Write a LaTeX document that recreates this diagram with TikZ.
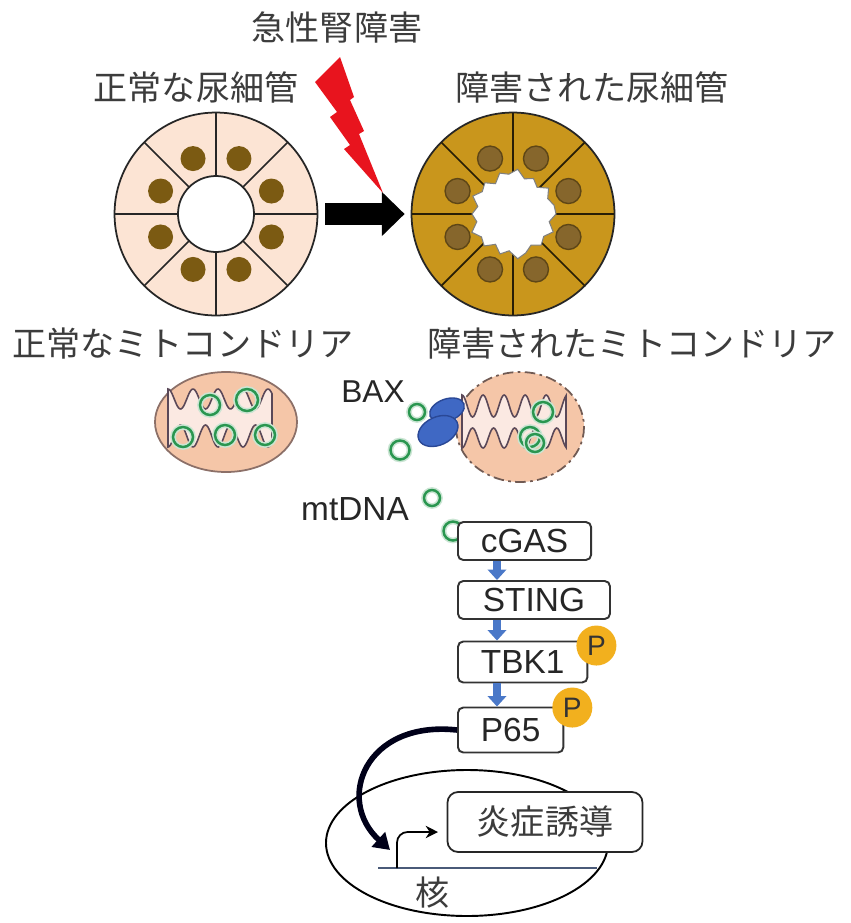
\documentclass[tikz,border=0pt]{standalone}
\usepackage{fontspec}
\setmainfont{Liberation Sans}
\newfontfamily\jp{Noto Sans CJK JP}
\usetikzlibrary{arrows.meta,positioning}
\definecolor{tubeN}{HTML}{FCE4D4}
\definecolor{tubeD}{HTML}{C9961C}
\definecolor{nucN}{HTML}{7B5A12}
\definecolor{nucD}{HTML}{86662C}
\definecolor{nucDL}{HTML}{5E4616}
\definecolor{mitoF}{HTML}{F5C6A8}
\definecolor{mitoL}{HTML}{8C7068}
\definecolor{cristaF}{HTML}{FBE9E2}
\definecolor{cristaL}{HTML}{5A4858}
\definecolor{mtG}{HTML}{2A9650}
\definecolor{baxB}{HTML}{3F68C4}
\definecolor{baxL}{HTML}{2A4896}
\definecolor{flowB}{HTML}{4A78C8}
\definecolor{phosY}{HTML}{F2B01E}
\definecolor{txtG}{HTML}{3C3C3C}
\definecolor{boltR}{HTML}{E8141E}
\definecolor{geneL}{HTML}{4A5A78}
\tikzset{
  jplabel/.style={font=\jp\fontsize{19.4}{22}\selectfont, text=txtG, inner sep=0pt},
  enlabel/.style={font=\fontsize{19}{22}\selectfont, text=black!85, inner sep=0pt},
  tube/.style={circle, draw=black!85, line width=1pt, minimum size=4.06cm, inner sep=0pt},
  pathbox/.style={draw=black!80, line width=1.1pt, rounded corners=3pt, fill=white,
    anchor=west, font=\fontsize{19}{22}\selectfont, text=black!85,
    inner xsep=0.46cm, inner ysep=0pt, minimum height=0.76cm},
  phos/.style={circle, fill=phosY, inner sep=0pt, minimum size=0.8cm,
    font=\fontsize{16}{18}\selectfont, text=black!80},
  flow/.style={draw=flowB, line width=4.5pt, -{Triangle[width=10.5pt,length=6pt]}},
  mtdna/.style={draw=mtG, line width=1.4pt, preaction={draw=mtG!25, line width=3.2pt}},
}
\begin{document}
\begin{tikzpicture}[x=0.02cm, y=-0.02cm]
  \fill[white] (0,0) rectangle (851,923);
  \useasboundingbox (0,0) rectangle (851,923);
  % 标题
  \node[jplabel] (aki) at (337,27) {急性腎障害};
  \node[jplabel] (lblN) at (196,87) {正常な尿細管};
  \node[jplabel] (lblD) at (592,87) {障害された尿細管};
  % 正常尿细管
  \node[tube, fill=tubeN] (tubN) at (216,214) {};
  \filldraw[fill=white, draw=black!85, line width=1pt] (tubN.center) circle (38);
  \foreach \a in {0,45,...,315}
    \draw[black!85, line width=1pt] (216,214) ++(\a:38) -- ++(\a:63);
  \foreach \a in {22.5,67.5,...,337.5}
    \fill[nucN] (216,214) ++(\a:60) circle (12.5);
  % 受损尿细管
  \node[tube, fill=tubeD] (tubD) at (513,214) {};
  \foreach \a in {0,45,...,315}
    \draw[black!80!tubeD, line width=1pt] (513,214) ++(\a:36) -- ++(\a:65);
  \foreach \a in {22.5,67.5,...,337.5}
    \filldraw[fill=nucD, draw=nucDL, line width=0.8pt] (513,214) ++(\a:60) circle (12.5);
  \filldraw[fill=white, draw=black!50, line width=0.6pt, shift={(513,214)}] (0:43)
    \foreach \r [count=\i] in {37,44,38,42,36,41,45,37,42,35,43,39,45,37,41,36,44,38,42,35,43,40,45,37,41,36,44,38,42}
      { -- (\i*12:\r) } -- cycle;
  % 闪电
  \fill[boltR] (340,57) -- (354,97) -- (350,100) -- (364,131) -- (359,134) -- (383,193)
    -- (344,149) -- (350,145) -- (330,117) -- (337,112) -- (315,82) -- cycle;
  % 大箭头
  \draw[black, line width=13pt, -{Triangle[width=24.4pt,length=13pt]}]
    ([xshift=0.14cm]tubN.east) -- ([xshift=-0.12cm]tubD.west);
  % 线粒体标题
  \node[jplabel] (lblMN) at (183,344) {正常なミトコンドリア};
  \node[jplabel] (lblMD) at (632,344) {障害されたミトコンドリア};
  % 正常线粒体
  \filldraw[fill=mitoF, draw=mitoL, line width=1pt] (226,422) ellipse (71 and 50);
  \filldraw[fill=cristaF, draw=cristaL, line width=0.9pt]
    plot[domain=168:272, samples=90] ({\x}, {399-10*cos(14.4*(\x-168))})
    -- plot[domain=272:168, samples=90] ({\x}, {436+11*cos(14.4*(\x-168))}) -- cycle;
  \foreach \p/\r in {{(210,405)}/10, {(247,400)}/11, {(183,437)}/10, {(225,435)}/10, {(265,435)}/10}
    \draw[mtdna] \p circle (\r);
  % 受损线粒体
  \filldraw[fill=mitoF, draw=mitoL!80!black, line width=1pt,
    dash pattern=on 6pt off 2.5pt on 1.5pt off 2.5pt] (520,427) ellipse (64 and 55);
  \filldraw[fill=cristaF, draw=cristaL, line width=0.9pt]
    plot[domain=462:566, samples=90] ({\x}, {406-11*cos(17.1*(\x-462))})
    -- plot[domain=566:462, samples=90] ({\x}, {438+10*cos(17.1*(\x-462))}) -- cycle;
  \foreach \p/\r in {{(543,412)}/10, {(530,437)}/10, {(535,443)}/9}
    \draw[mtdna] \p circle (\r);
  % BAX
  \filldraw[fill=baxB, draw=baxL, line width=0.8pt, rotate around={20:(447,410)}]
    (447,410) ellipse (18 and 11);
  \filldraw[fill=baxB, draw=baxL, line width=0.8pt, rotate around={25:(438,431)}]
    (438,431) ellipse (21 and 14);
  \node[enlabel, font=\fontsize{18}{20}\selectfont] (bax) at (373,392) {BAX};
  % 释放的 mtDNA
  \foreach \p/\r in {{(417,412)}/8, {(400,450)}/9.5, {(432,498)}/8, {(453,531)}/9.5}
    \draw[mtdna] \p circle (\r);
  \node[enlabel] (mtdna) at (355,509) {mtDNA};
  % 信号通路
  \node[pathbox] (cgas) at (457,541) {cGAS};
  \node[pathbox, inner xsep=0.5cm] (sting) at (457,600) {STING};
  \node[pathbox, minimum height=0.82cm] (tbk) at (457,662) {TBK1};
  \node[pathbox, minimum height=0.9cm] (p65) at (457,730) {P65};
  \draw[flow] ([xshift=0.8cm]cgas.south west) -- ([xshift=0.8cm]sting.north west);
  \draw[flow] ([xshift=0.8cm]sting.south west) -- ([xshift=0.8cm]tbk.north west);
  \draw[flow] ([xshift=0.8cm]tbk.south west) -- ([xshift=0.8cm]p65.north west);
  \node[phos] (ptbk) at ([shift={(0.16cm,-0.1cm)}]tbk.north east) {P};
  \node[phos] (pp65) at ([shift={(0.16cm,-0.02cm)}]p65.north east) {P};
  % 细胞核
  \draw[black, line width=1.1pt] (467,843) ellipse (141 and 73);
  \coordinate (geneL) at (378,868);
  \coordinate (geneR) at (597,868);
  \draw[geneL, line width=1pt] (geneL) -- (geneR);
  \coordinate (tss) at (397,868);
  \coordinate (tssE) at (438,832);
  \draw[black, line width=1pt, rounded corners=6pt, -{Stealth[length=7pt,width=7pt]}] (tss) |- (tssE);
  \node[draw=black!85, line width=1pt, rounded corners=6pt, fill=white,
    minimum width=3.9cm, minimum height=1.2cm, font=\jp\fontsize{19.4}{22}\selectfont,
    text=txtG] (infl) at (545,822) {炎症誘導};
  \node[jplabel] (nuc) at (433,893) {核};
  % 入核箭头
  \coordinate (bind) at (390,850);
  \draw[black!90!blue, line width=3.2pt, -{Triangle[width=11pt,length=9pt]}]
    (p65.west) .. controls (365,720) and (335,800) .. (bind);
\end{tikzpicture}
\end{document}
